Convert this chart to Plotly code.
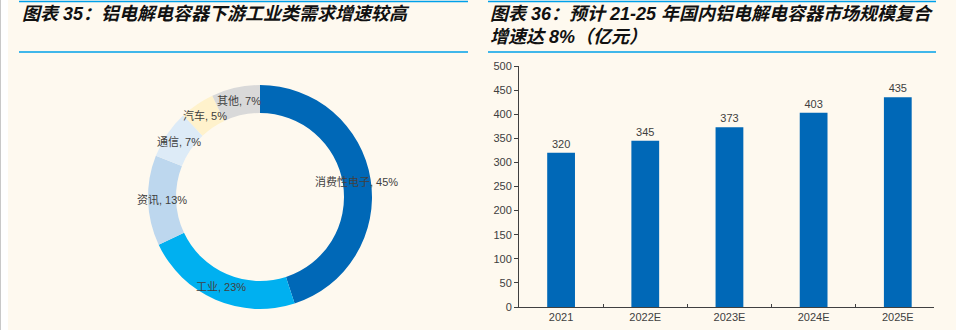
import math
import plotly.graph_objects as go

# Downstream demand mix for aluminium electrolytic capacitors (%)
seg_labels = ["消费性电子", "工业", "资讯", "通信", "汽车", "其他"]
seg_values = [45, 23, 13, 7, 5, 7]
seg_colors = ["#0068B7", "#00B0F0", "#BDD7EE", "#DDEBF7", "#FFF2CC", "#D9D9D9"]

# Domestic market size (100 million yuan)
years = ["2021", "2022E", "2023E", "2024E", "2025E"]
market_size = [320, 345, 373, 403, 435]

title_left = "图表 35：铝电解电容器下游工业类需求增速较高"
title_right_1 = "图表 36：预计 21-25 年国内铝电解电容器市场规模复合"
title_right_2 = "增速达 8%（亿元）"

W, H = 960, 330
BG = "#FEF9EF"
LINE_BLUE = "#00A0E9"
TXT = "#404040"
FONT = "Liberation Sans, Noto Sans CJK SC, sans-serif"
TFONT = "Liberation Sans, Noto Sans CJK SC, sans-serif"


def px_x(x):
    return x / W


def px_y(y):
    return 1 - y / H


# donut geometry (pixels)
cx, cy, r_out = 260, 197, 112
hole = 0.75

fig = go.Figure()

fig.add_trace(go.Pie(
    labels=seg_labels,
    values=seg_values,
    marker=dict(colors=seg_colors, line=dict(width=0)),
    hole=hole,
    sort=False,
    direction="clockwise",
    rotation=0,
    textinfo="none",
    hoverinfo="label+percent",
    showlegend=False,
    domain=dict(x=[px_x(cx - r_out), px_x(cx + r_out)],
                y=[px_y(cy + r_out), px_y(cy - r_out)]),
))

# labels at the middle of each ring segment
total = sum(seg_values)
r_mid = r_out * (1 + hole) / 2
cum = 0
annotations = []
for lab, val in zip(seg_labels, seg_values):
    mid = (cum + val / 2) / total
    cum += val
    ang = 2 * math.pi * mid
    lx = cx + r_mid * math.sin(ang)
    ly = cy - r_mid * math.cos(ang)
    annotations.append(dict(
        x=px_x(lx), y=px_y(ly), xref="paper", yref="paper",
        text=f"{lab}, {val}%", showarrow=False,
        font=dict(family=FONT, size=11, color=TXT),
        xanchor="center", yanchor="middle",
    ))

fig.add_trace(go.Bar(
    x=years,
    y=market_size,
    marker=dict(color="#0068B7", line=dict(width=0)),
    width=0.33,
    text=[str(v) for v in market_size],
    textposition="outside",
    textfont=dict(family=FONT, size=11, color=TXT),
    cliponaxis=False,
    showlegend=False,
    xaxis="x", yaxis="y",
))

# titles
for txt, xx, yy in [(title_left, 20, 14), (title_right_1, 488, 14),
                    (title_right_2, 488, 37)]:
    annotations.append(dict(
        x=px_x(xx), y=px_y(yy), xref="paper", yref="paper",
        text=f"<b><i>{txt}</i></b>", showarrow=False,
        font=dict(family=TFONT, size=18, color="#111111"),
        xanchor="left", yanchor="middle",
    ))

shapes = [
    # cream panel background
    dict(type="rect", xref="paper", yref="paper", layer="below",
         x0=px_x(8), x1=px_x(956), y0=0, y1=1,
         fillcolor=BG, line=dict(width=0)),
    # thin grey page edge
    dict(type="line", xref="paper", yref="paper",
         x0=px_x(0.5), x1=px_x(0.5), y0=0, y1=1,
         line=dict(color="#C8C8C8", width=1)),
]
for x0, x1 in [(19, 468), (488, 936)]:
    for yy in (1.5, 52):
        shapes.append(dict(type="line", xref="paper", yref="paper",
                           x0=px_x(x0), x1=px_x(x1), y0=px_y(yy), y1=px_y(yy),
                           line=dict(color=LINE_BLUE, width=1.5)))

fig.update_layout(
    template="none",
    width=W, height=H,
    margin=dict(l=0, r=0, t=0, b=0, pad=0, autoexpand=False),
    paper_bgcolor="white",
    plot_bgcolor="rgba(0,0,0,0)",
    font=dict(family=FONT, size=11, color=TXT),
    annotations=annotations,
    shapes=shapes,
    xaxis=dict(
        domain=[px_x(519), px_x(934)],
        type="category",
        range=[-0.5, 4.43],
        automargin=False,
        showline=True, linecolor="#404040", linewidth=1,
        ticks="inside", tickson="boundaries", ticklen=3, tickcolor="#404040",
        showgrid=False, zeroline=False,
        tickfont=dict(family=FONT, size=11, color=TXT),
        fixedrange=True,
    ),
    yaxis=dict(
        domain=[px_y(307), px_y(66)],
        range=[0, 500], dtick=50,
        automargin=False,
        showline=True, linecolor="#404040", linewidth=1,
        ticks="outside", ticklen=4, tickcolor="#404040",
        showgrid=False, zeroline=False,
        tickfont=dict(family=FONT, size=11, color=TXT),
        fixedrange=True,
    ),
)

fig.write_html("out.html")
